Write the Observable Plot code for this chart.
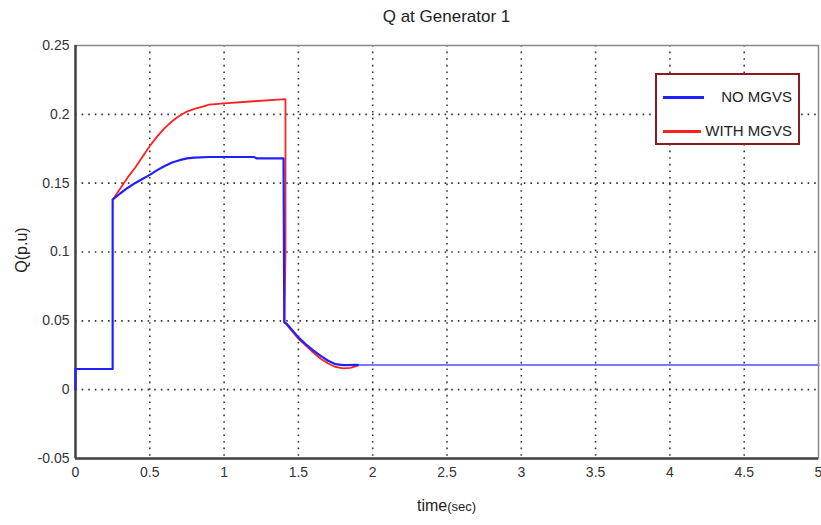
<!DOCTYPE html>
<html>
<head>
<meta charset="utf-8">
<script src="https://cdn.jsdelivr.net/npm/d3@7"></script>
<script src="https://cdn.jsdelivr.net/npm/@observablehq/plot@0.6"></script>
<style>
  html, body { margin: 0; padding: 0; background: #fff; }
  #wrap { position: relative; width: 821px; height: 525px; font-family: "Liberation Sans Narrow", "Liberation Sans", Arial, sans-serif; color: #222; }
  #title { position: absolute; left: 75px; width: 743px; top: 7px; text-align: center; font-size: 17px; }
  #ylab { position: absolute; left: 22px; top: 250px; transform: translate(-50%, -50%) rotate(-90deg); font-size: 16px; white-space: nowrap; }
  #xlab { position: absolute; left: 75px; width: 743px; top: 497px; text-align: center; font-size: 16px; }
  #xlab span { font-size: 13px; }
  #legend { position: absolute; left: 655px; top: 73px; width: 145px; height: 72px; border: 2px solid #8b1a22; background: #fff; box-sizing: border-box; font-size: 15px; }
  .li { position: absolute; right: 6px; height: 20px; line-height: 20px; text-align: right; }
  .sw { position: absolute; left: 6px; height: 3px; }
  svg { position: absolute; left: 0; top: 0; }
</style>
</head>
<body>
<div id="wrap">
  <div id="title">Q at Generator 1</div>
  <div id="ylab">Q(p.u)</div>
  <div id="xlab">time<span>(sec)</span></div>
</div>
<script>
// NO MGVS series
const noTime = [0, 0, 0.25, 0.25, 0.3, 0.35, 0.4, 0.45, 0.5, 0.55, 0.6, 0.65, 0.7, 0.75, 0.8, 0.9, 1.2, 1.22, 1.4, 1.405, 1.42, 1.5, 1.55, 1.6, 1.65, 1.7, 1.75, 1.8, 1.9];
const noQ    = [0, 0.015, 0.015, 0.138, 0.1425, 0.1465, 0.150, 0.153, 0.156, 0.1595, 0.1625, 0.165, 0.1667, 0.168, 0.1686, 0.169, 0.169, 0.168, 0.168, 0.049, 0.048, 0.038, 0.033, 0.0285, 0.0245, 0.021, 0.0185, 0.0178, 0.018];
// steady tail after 1.9 s
const tailTime = [1.9, 5];
const tailQ    = [0.018, 0.018];
// WITH MGVS series
const withTime = [0.25, 0.3, 0.35, 0.4, 0.45, 0.5, 0.55, 0.6, 0.65, 0.7, 0.75, 0.8, 0.85, 0.9, 1.0, 1.2, 1.413, 1.413, 1.406, 1.5, 1.55, 1.6, 1.65, 1.7, 1.75, 1.8, 1.85, 1.9];
const withQ    = [0.138, 0.146, 0.154, 0.161, 0.169, 0.177, 0.184, 0.190, 0.195, 0.199, 0.202, 0.204, 0.2055, 0.207, 0.208, 0.2095, 0.211, 0.1, 0.049, 0.037, 0.032, 0.027, 0.0225, 0.019, 0.0165, 0.0155, 0.0158, 0.0175];

const xTicks = [0, 0.5, 1, 1.5, 2, 2.5, 3, 3.5, 4, 4.5, 5];
const yTicks = [-0.05, 0, 0.05, 0.1, 0.15, 0.2, 0.25];
const legendLabels = ["NO MGVS", "WITH MGVS"];
const colors = {no: "#2020ff", with: "#ff2020", tail: "#7a7aff"};

const noData = noTime.map((t, i) => ({t, q: noQ[i]}));
const tailData = tailTime.map((t, i) => ({t, q: tailQ[i]}));
const withData = withTime.map((t, i) => ({t, q: withQ[i]}));
const fmt = d => String(+d.toFixed(2));

const chart = Plot.plot({
  width: 821,
  height: 525,
  marginLeft: 75,
  marginRight: 3,
  marginTop: 45,
  marginBottom: 67,
  style: {fontFamily: '"Liberation Sans Narrow", "Liberation Sans", Arial, sans-serif', fontSize: "14px", color: "#333", background: "transparent"},
  x: {domain: [0, 5]},
  y: {domain: [-0.05, 0.25]},
  marks: [
    Plot.gridX(xTicks.slice(1, -1), {stroke: "#111", strokeOpacity: 0.85, strokeWidth: 1.6, strokeDasharray: "1.6,5"}),
    Plot.gridY(yTicks.slice(1, -1), {stroke: "#111", strokeOpacity: 0.85, strokeWidth: 1.6, strokeDasharray: "1.6,5"}),
    Plot.frame({stroke: "#888", strokeWidth: 1.5}),
    Plot.ruleX([0], {stroke: "#444", strokeWidth: 2.5}),
    Plot.ruleY([-0.05], {stroke: "#444", strokeWidth: 2.5}),
    Plot.axisX(xTicks, {tickSize: 0, tickPadding: 9, tickFormat: fmt, fontSize: 14, fill: "#333", label: null}),
    Plot.axisY(yTicks, {tickSize: 0, tickPadding: 6, tickFormat: fmt, fontSize: 14, fill: "#333", label: null}),
    Plot.line(tailData, {x: "t", y: "q", stroke: colors.tail, strokeWidth: 2}),
    Plot.line(withData, {x: "t", y: "q", stroke: colors.with, strokeWidth: 1.8}),
    Plot.line(noData, {x: "t", y: "q", stroke: colors.no, strokeWidth: 2.2})
  ]
});
const wrap = document.getElementById("wrap");
wrap.insertBefore(chart, wrap.firstChild);

const lg = document.createElement("div");
lg.id = "legend";
[colors.no, colors.with].forEach((c, i) => {
  const top = 12 + i * 34;
  const sw = document.createElement("div");
  sw.className = "sw";
  sw.style.top = (top + 9) + "px";
  sw.style.width = (i === 0 ? 41 : 38) + "px";
  sw.style.background = c;
  lg.appendChild(sw);
  const tx = document.createElement("div");
  tx.className = "li";
  tx.style.top = top + "px";
  tx.textContent = legendLabels[i];
  lg.appendChild(tx);
});
wrap.appendChild(lg);
</script>
</body>
</html>
